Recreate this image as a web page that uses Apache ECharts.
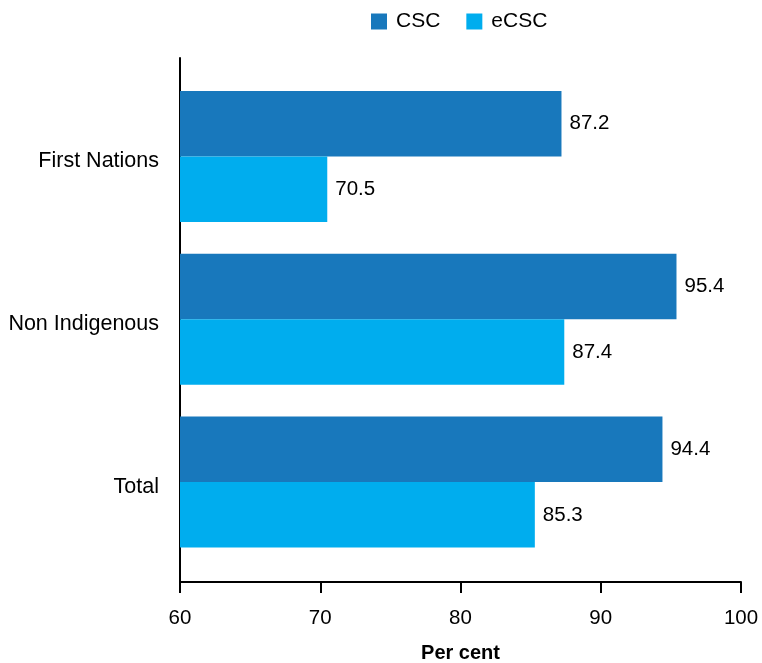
<!DOCTYPE html>
<html>
<head>
<meta charset="utf-8">
<script src="https://cdn.jsdelivr.net/npm/echarts@6/dist/echarts.min.js"></script>
<style>html,body{margin:0;padding:0;background:#fff}#c{width:762px;height:663px}</style>
</head>
<body>
<div id="c"></div>
<script>
const categories = ['First Nations', 'Non Indigenous', 'Total'];
const cscValues = [87.2, 95.4, 94.4];
const ecscValues = [70.5, 87.4, 85.3];
const seriesNames = ['CSC', 'eCSC'];
const xTicks = { min: 60, max: 100, interval: 10 };

const FONT = '"Liberation Sans", Arial, sans-serif';
const chart = echarts.init(document.getElementById('c'), null, { renderer: 'canvas' });
const valueLabel = { show: true, position: 'right', distance: 8, color: '#000', fontSize: 20.5, fontFamily: FONT };
chart.setOption({
  animation: false,
  textStyle: { fontFamily: FONT },
  legend: {
    data: seriesNames,
    left: 371, top: 11, padding: 0,
    icon: 'rect', itemWidth: 16, itemHeight: 16, itemGap: 26,
    textStyle: { fontSize: 21, color: '#000', fontFamily: FONT, padding: [4, 0, 0, 4] }
  },
  grid: [
    { left: 180, right: 21, top: 58, bottom: 81, containLabel: false, outerBoundsMode: 'none' },
    { left: 180, right: 21, top: 75, bottom: 99.5, containLabel: false, outerBoundsMode: 'none' }
  ],
  xAxis: [
    {
      gridIndex: 0, type: 'value', min: xTicks.min, max: xTicks.max, interval: xTicks.interval,
      name: 'Per cent', nameLocation: 'middle', nameGap: 61,
      nameTextStyle: { fontSize: 20, fontWeight: 'bold', color: '#000', fontFamily: FONT },
      axisLine: { show: true, lineStyle: { color: '#000', width: 2 } },
      axisTick: { show: true, length: 11, lineStyle: { color: '#000', width: 2 } },
      axisLabel: { fontSize: 20.5, color: '#000', margin: 26, fontFamily: FONT },
      splitLine: { show: false }
    },
    {
      gridIndex: 1, type: 'value', min: xTicks.min, max: xTicks.max, interval: xTicks.interval,
      show: false
    }
  ],
  yAxis: [
    {
      gridIndex: 0, type: 'value', min: 0, max: 1,
      axisLine: { show: true, onZero: false, lineStyle: { color: '#000', width: 2 } },
      axisTick: { show: false }, axisLabel: { show: false }, splitLine: { show: false }
    },
    {
      gridIndex: 1, type: 'category', data: categories, inverse: true,
      axisLine: { show: false }, axisTick: { show: false },
      axisLabel: {
        margin: 21, formatter: '{a|{value}}',
        rich: { a: { fontSize: 21.5, color: '#000', fontFamily: FONT, padding: [10, 0, 0, 0] } }
      }
    }
  ],
  series: [
    {
      name: seriesNames[0], type: 'bar', xAxisIndex: 1, yAxisIndex: 1,
      data: cscValues, barGap: '0%', barCategoryGap: '19.5%',
      itemStyle: { color: '#1878BC' }, label: valueLabel
    },
    {
      name: seriesNames[1], type: 'bar', xAxisIndex: 1, yAxisIndex: 1,
      data: ecscValues, barGap: '0%', barCategoryGap: '19.5%',
      itemStyle: { color: '#00ADEE' }, label: valueLabel
    }
  ]
});
</script>
</body>
</html>
